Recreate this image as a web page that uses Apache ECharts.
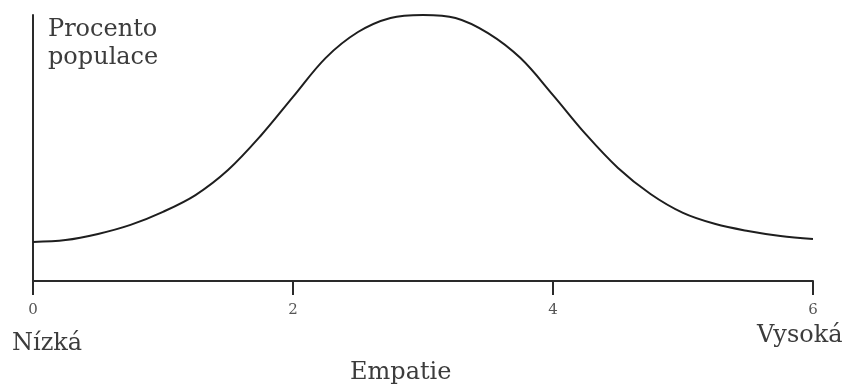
<!DOCTYPE html>
<html>
<head>
<meta charset="utf-8">
<script src="https://cdn.jsdelivr.net/npm/echarts@6/dist/echarts.min.js"></script>
<style>
  html, body { margin: 0; padding: 0; background: #fff; }
  #chart { width: 848px; height: 388px; }
</style>
</head>
<body>
<div id="chart"></div>
<script>
// empathy scores (x) and share of population (y, relative units)
const empathy = [0, 0.25, 0.5, 0.75, 1, 1.25, 1.5, 1.75, 2, 2.25, 2.5, 2.75, 3,
  3.25, 3.5, 3.75, 4, 4.25, 4.5, 4.75, 5, 5.25, 5.5, 5.75, 6];
const population = [14.7, 15.4, 17.7, 21.1, 26.0, 32.3, 41.7, 54.5, 69.2, 83.8, 93.6, 98.9, 100,
  98.9, 93.2, 83.8, 69.9, 55.3, 42.5, 32.7, 25.6, 21.4, 18.8, 16.9, 15.8];
const tickLabels = ['0', '2', '4', '6'];
const yTitle = 'Procento\npopulace';
const xTitle = 'Empatie';
const lowLabel = 'Nízká';
const highLabel = 'Vysoká';

const font = '"DejaVu Serif", "Liberation Serif", serif';
const textColor = '#3c3c3c';

const chart = echarts.init(document.getElementById('chart'));

chart.setOption({
  animation: false,
  grid: { left: 33, right: 35, top: 15, bottom: 107, containLabel: false },
  xAxis: {
    type: 'value',
    min: 0,
    max: 6,
    interval: 2,
    axisLine: { show: true, lineStyle: { color: '#2a2a2a', width: 2 } },
    axisTick: { show: true, inside: false, length: 14, lineStyle: { color: '#2a2a2a', width: 2 } },
    splitLine: { show: false },
    axisLabel: {
      margin: 22,
      fontFamily: font,
      fontSize: 15,
      color: '#555',
      formatter: (v) => tickLabels[v / 2] || ''
    }
  },
  yAxis: {
    type: 'value',
    min: 0,
    max: 100,
    axisLine: { show: true, lineStyle: { color: '#2a2a2a', width: 2 } },
    axisTick: { show: false },
    axisLabel: { show: false },
    splitLine: { show: false }
  },
  series: [{
    type: 'line',
    data: empathy.map((x, i) => [x, population[i]]),
    smooth: 0.35,
    showSymbol: false,
    lineStyle: { color: '#1e1e1e', width: 2 }
  }],
  graphic: [
    {
      type: 'text', left: 48, top: 16,
      style: { text: yTitle, font: '24px ' + font, fill: textColor, lineHeight: 28 }
    },
    {
      type: 'text', left: 12, top: 332,
      style: { text: lowLabel, font: '24px ' + font, fill: textColor }
    },
    {
      type: 'text', left: 757, top: 324,
      style: { text: highLabel, font: '24px ' + font, fill: textColor }
    },
    {
      type: 'text', left: 350, top: 361,
      style: { text: xTitle, font: '24px ' + font, fill: textColor }
    }
  ]
});
</script>
</body>
</html>
